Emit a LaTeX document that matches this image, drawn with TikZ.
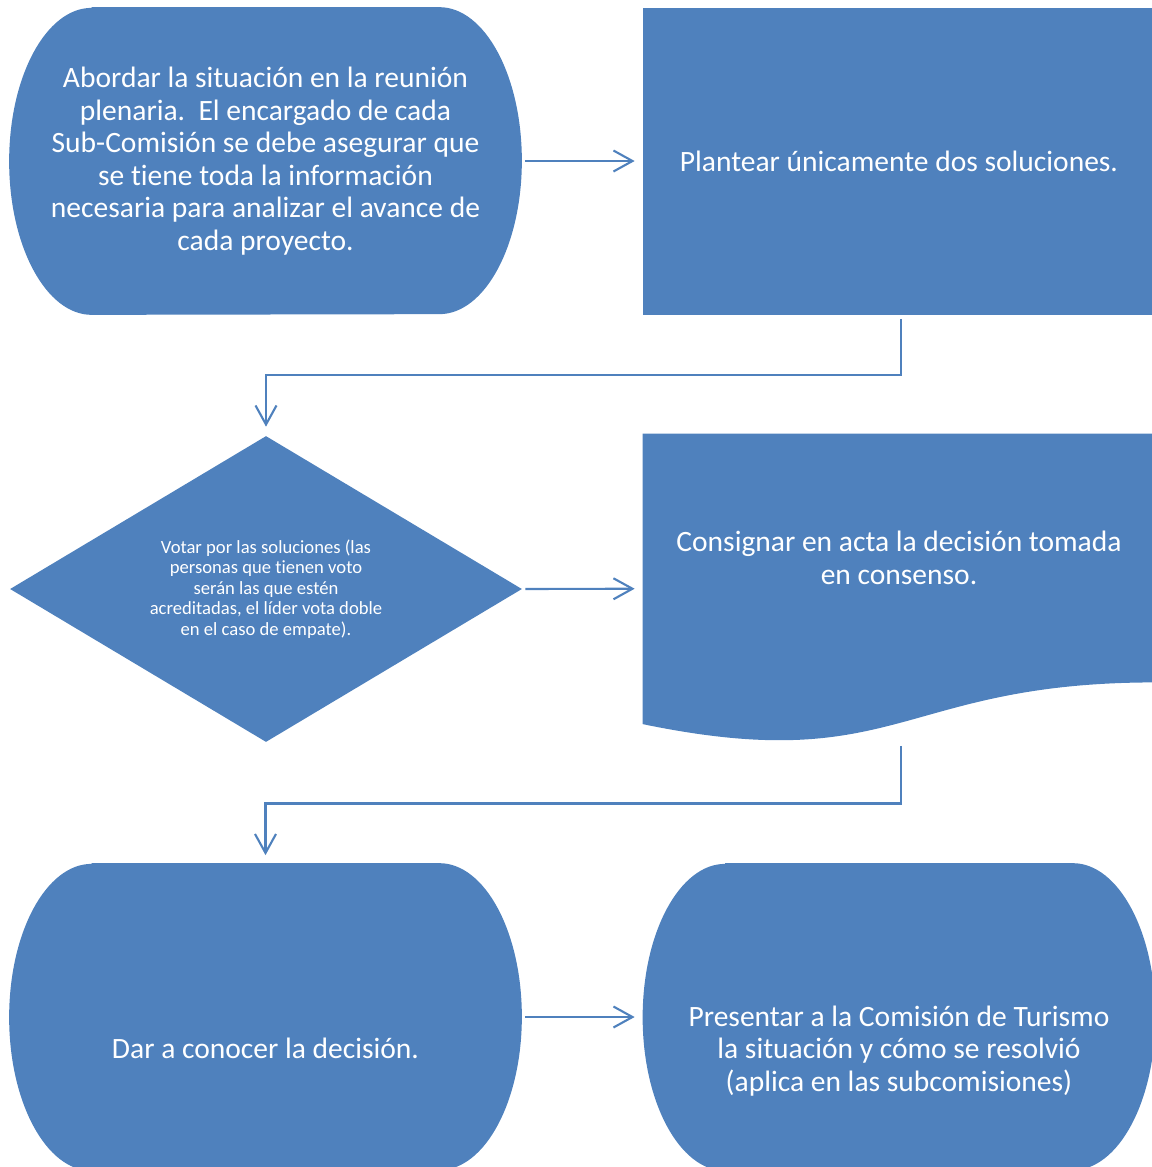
\documentclass[tikz,border=0pt]{standalone}
\usepackage{fontspec}
\setmainfont[Ligatures=NoCommon]{Carlito}
\usetikzlibrary{shapes.geometric,arrows.meta,calc,backgrounds}

\definecolor{boxblue}{HTML}{4F81BD}

\tikzset{
  box/.style={minimum width=10.24cm, minimum height=6.14cm, inner sep=0pt,
    text=white, align=center, font=\fontsize{16.8}{18.5}\selectfont},
  small/.style={text=white, align=center, font=\fontsize{10.6}{11.6}\selectfont},
  txt/.style={text=white, align=center, inner sep=0pt, font=\fontsize{16.8}{18.5}\selectfont},
  flow/.style={draw=boxblue, line width=1.2pt, -{Straight Barb[length=0.38cm,width=0.42cm]}},
  termarc/.style={x radius=1.65cm, y radius=3.07cm},
}

\begin{document}
\begin{tikzpicture}
\useasboundingbox (0,0) rectangle (23.04,-23.34);

% shapes
\node[box] (abordar) at (5.31,-3.22) {Abordar la situación en la reunión\\plenaria.\ \ El encargado de cada\\Sub-Comisión se debe asegurar que\\se tiene toda la información\\necesaria para analizar el avance de\\cada proyecto.};
\node[box, fill=boxblue] (plantear) at (17.98,-3.22) {Plantear únicamente dos soluciones.};
\node[box, diamond, aspect=1.67, fill=boxblue, small, minimum width=10.24cm, minimum height=6.12cm] (votar) at (5.32,-11.78)
  {Votar por las soluciones (las\\personas que tienen voto\\serán las que estén\\acreditadas, el líder vota doble\\en el caso de empate).};
\node[box, minimum height=6.19cm] (consignar) at (17.98,-11.774) {};
\node[box] (dar) at (5.31,-20.34) {};
\node[box] (presentar) at (17.98,-20.34) {};

\node[txt] (consignartxt) at (17.98,-11.16) {Consignar en acta la decisión tomada\\en consenso.};
\node[txt] (dartxt) at ([yshift=-0.62cm]dar.center) {Dar a conocer la decisión.};
\node[txt] (presentartxt) at ([yshift=-0.68cm]presentar.center) {Presentar a la Comisión de Turismo\\la situación y cómo se resolvió\\(aplica en las subcomisiones)};

\begin{scope}[on background layer]
  \foreach \n in {abordar,dar,presentar}
    \fill[boxblue] ([xshift=1.65cm]\n.north west) -- ([xshift=-1.65cm]\n.north east)
      arc[termarc, start angle=90, end angle=-90] -- ([xshift=1.65cm]\n.south west)
      arc[termarc, start angle=270, end angle=90] -- cycle;
  \fill[boxblue] (consignar.north west) -- (consignar.north east) -- ([yshift=1.228cm]consignar.south east)
    .. controls ([yshift=1.228cm]consignar.south) and ([yshift=-0.666cm]consignar.south) .. ([yshift=0.394cm]consignar.south west) -- cycle;
\end{scope}

% connectors
\path[shorten <=0.06cm, shorten >=0.16cm]
  (abordar) edge[flow] (plantear)
  (votar.east) edge[flow] (consignar.west)
  (dar) edge[flow] (presentar);
\draw[flow, shorten <=0.08cm, shorten >=0.18cm]
  ([xshift=0.04cm]plantear.south) |- ($(plantear.south)!0.5!(votar.north)$) -| (votar.north);
\draw[flow, shorten <=0.04cm, shorten >=0.16cm]
  ([xshift=0.04cm]consignar.south) |- ($(consignar.south)!0.5!(dar.north)$) -| (dar.north);
\end{tikzpicture}
\end{document}
